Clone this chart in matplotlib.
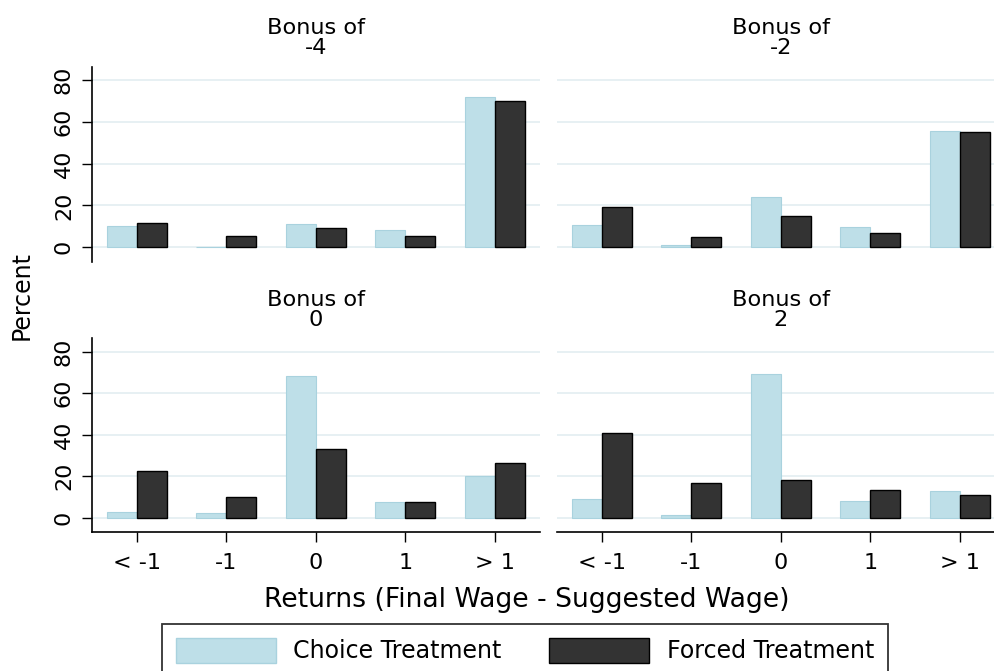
import matplotlib
matplotlib.use("Agg")
import matplotlib.pyplot as plt
from matplotlib.patches import Patch
import numpy as np

# categorias do eixo x
categorias = ["< -1", "-1", "0", "1", "> 1"]
bonus = ["-4", "-2", "0", "2"]

# percentuais (Choice / Forced) para cada bonus
choice_m4 = [9.9, 0.0, 11.0, 8.0, 72.0]
forced_m4 = [11.5, 5.4, 9.1, 5.4, 69.9]
choice_m2 = [10.7, 1.1, 24.0, 9.8, 55.8]
forced_m2 = [19.2, 4.8, 15.0, 7.0, 55.4]
choice_0 = [2.9, 2.1, 68.3, 7.5, 20.2]
forced_0 = [22.7, 10.2, 33.0, 7.7, 26.6]
choice_2 = [9.0, 1.3, 69.4, 8.0, 13.1]
forced_2 = [41.0, 17.0, 18.1, 13.3, 10.9]

choice_all = [choice_m4, choice_m2, choice_0, choice_2]
forced_all = [forced_m4, forced_m2, forced_0, forced_2]

cor_choice = "#bedfe8"
cor_choice_borda = "#a9d2de"
cor_forced = "#333333"
cor_grade = "#e3edf1"

W, H = 994, 671
fig = plt.figure(figsize=(W / 100, H / 100), dpi=100)

# posicoes dos paineis em pixels (esquerda, topo, largura, altura)
paineis = [(92, 66.7, 447.5, 195), (557, 66.7, 447.5, 195),
           (92, 338.3, 447.5, 194), (557, 338.3, 447.5, 194)]

x = np.arange(len(categorias))
largura = 0.335

for k, (l, t, w, h) in enumerate(paineis):
    ax = fig.add_axes([l / W, 1 - (t + h) / H, w / W, h / H])
    ax.bar(x - largura / 2, choice_all[k], largura, color=cor_choice,
           edgecolor=cor_choice_borda, linewidth=0.8, zorder=3)
    ax.bar(x + largura / 2, forced_all[k], largura, color=cor_forced,
           edgecolor="black", linewidth=1.0, zorder=3)
    ax.set_xlim(-0.5, 4.5)
    ax.set_ylim(-7, 86.5)
    ax.set_yticks([0, 20, 40, 60, 80])
    for yv in [0, 20, 40, 60, 80]:
        ax.axhline(yv, color=cor_grade, linewidth=1.2, zorder=1)

    esquerda = k % 2 == 0
    baixo = k >= 2
    for s in ["top", "right"]:
        ax.spines[s].set_visible(False)
    ax.spines["left"].set_visible(esquerda)
    ax.spines["bottom"].set_visible(baixo)
    for s in ["left", "bottom"]:
        ax.spines[s].set_linewidth(1.2)

    if esquerda:
        ax.tick_params(axis="y", length=7, width=1.0, pad=6, labelsize=16)
        for lab in ax.get_yticklabels():
            lab.set_rotation(90)
            lab.set_va("center")
    else:
        ax.tick_params(axis="y", left=False, labelleft=False)

    ax.set_xticks(x)
    if baixo:
        ax.set_xticklabels(categorias)
        ax.tick_params(axis="x", length=7, width=1.0, pad=8, labelsize=16)
    else:
        ax.tick_params(axis="x", bottom=False, labelbottom=False)

    ax.text(0.5, 1.045, "Bonus of\n" + bonus[k], transform=ax.transAxes,
            ha="center", va="bottom", fontsize=16.2, linespacing=1.0)

fig.text(22 / W, 1 - 295 / H, "Percent", rotation=90, ha="center",
         va="center", fontsize=17)
fig.text(527 / W, 1 - 600 / H, "Returns (Final Wage - Suggested Wage)",
         ha="center", va="center", fontsize=19.2)

handles = [Patch(facecolor=cor_choice, edgecolor=cor_choice_borda, label="Choice Treatment"),
           Patch(facecolor=cor_forced, edgecolor="black", label="Forced Treatment")]
leg = fig.legend(handles=handles, loc="upper center", bbox_to_anchor=(525 / W, 1 - 624 / H),
                 ncol=2, fontsize=17.1, frameon=True, fancybox=False,
                 handlelength=4.2, handleheight=1.2, handletextpad=0.75,
                 columnspacing=2.0, borderpad=0.6, borderaxespad=0.0)
leg.get_frame().set_edgecolor("black")
leg.get_frame().set_linewidth(1.3)

fig.savefig("out.png", dpi=100)
